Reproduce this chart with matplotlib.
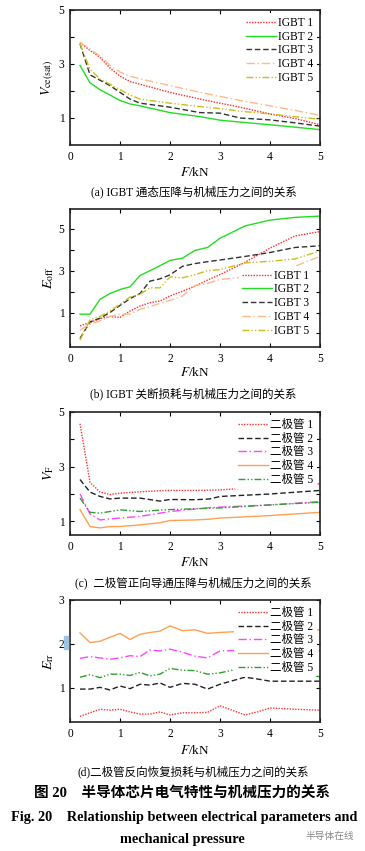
import matplotlib
matplotlib.use('Agg')
import matplotlib.pyplot as plt
from matplotlib.patches import Rectangle

plt.rcParams['font.family'] = ['Liberation Serif', 'Noto Sans CJK SC']
plt.rcParams['mathtext.fontset'] = 'stix'
plt.rcParams['axes.unicode_minus'] = False

# (a) IGBT Vce(sat)
xa = [0.2, 0.4, 0.6, 0.8, 1.0, 1.2, 1.4, 2.0, 2.6, 3.0, 3.4, 4.0, 4.5, 5.0]
a_igbt1 = [3.80, 3.50, 3.25, 2.85, 2.55, 2.35, 2.25, 1.95, 1.70, 1.55, 1.40, 1.15, 0.98, 0.75]
a_igbt2 = [2.95, 2.30, 2.05, 1.85, 1.65, 1.52, 1.45, 1.20, 1.05, 0.92, 0.85, 0.75, 0.66, 0.57]
a_igbt3 = [3.75, 2.60, 2.40, 2.20, 1.95, 1.70, 1.55, 1.40, 1.20, 1.18, 1.00, 0.93, 0.82, 0.70]
a_igbt4 = [3.80, 3.55, 3.30, 2.95, 2.70, 2.55, 2.45, 2.20, 1.95, 1.80, 1.65, 1.45, 1.28, 1.10]
a_igbt5 = [3.75, 2.80, 2.45, 2.25, 2.05, 1.85, 1.70, 1.55, 1.42, 1.35, 1.25, 1.15, 1.05, 0.95]

# (b) IGBT Eoff
xb = [0.2, 0.4, 0.6, 0.8, 1.0, 1.2, 1.4, 1.6, 1.8, 2.0, 2.25, 2.5, 2.75, 3.0, 3.5, 4.0, 4.5, 5.0]
b_igbt1 = [0.36, 0.52, 0.71, 0.81, 0.76, 1.07, 1.31, 1.47, 1.55, 1.79, 2.02, 2.26, 2.55, 2.81, 3.40, 4.08, 4.66, 4.87]
b_igbt2 = [0.92, 0.92, 1.63, 1.91, 2.10, 2.23, 2.77, 3.00, 3.24, 3.49, 3.60, 3.97, 4.11, 4.55, 5.14, 5.42, 5.55, 5.61]
b_igbt3 = [-0.24, 0.55, 0.73, 1.00, 1.34, 1.66, 1.91, 2.50, 2.61, 2.80, 3.21, 3.34, 3.43, 3.51, 3.68, 3.87, 4.11, 4.19]
b_igbt4 = [0.16, 0.44, 0.60, 0.81, 0.92, 0.92, 1.15, 1.28, 1.44, 1.58, 1.79, 2.29, 2.39, 2.58, 2.70, 3.13, 3.21, 3.68]
b_igbt5 = [-0.32, 0.65, 0.81, 1.08, 1.39, 1.74, 1.87, 2.18, 2.18, 2.70, 2.66, 2.81, 3.00, 3.05, 3.37, 3.45, 3.56, 3.95]

# (c) diode VF
xc = [0.2, 0.4, 0.6, 0.8, 1.0, 1.4, 1.8, 2.0, 2.5, 2.8, 3.0, 4.0, 5.0]
c_d1 = [4.57, 2.43, 2.07, 1.98, 2.03, 2.08, 2.12, 2.13, 2.13, 2.14, 2.15, 2.28, 2.37]
c_d2 = [2.53, 2.07, 1.91, 1.82, 1.85, 1.85, 1.74, 1.80, 1.79, 1.82, 1.91, 2.00, 2.13]
c_d3 = [2.00, 1.27, 1.05, 1.09, 1.12, 1.18, 1.30, 1.36, 1.45, 1.50, 1.52, 1.60, 1.72]
c_d4 = [1.43, 0.81, 0.76, 0.81, 0.81, 0.87, 0.95, 1.03, 1.05, 1.08, 1.12, 1.21, 1.33]
c_d5 = [1.85, 1.33, 1.30, 1.36, 1.42, 1.36, 1.41, 1.43, 1.46, 1.48, 1.49, 1.60, 1.70]

# (d) diode Err
xd = [0.2, 0.4, 0.6, 0.8, 1.0, 1.2, 1.4, 1.6, 1.8, 2.0, 2.25, 2.5, 2.75, 3.0, 3.5, 3.75, 4.0, 4.5, 4.75, 5.0]
d_d1 = [0.35, 0.43, 0.51, 0.49, 0.51, 0.45, 0.40, 0.40, 0.45, 0.38, 0.43, 0.43, 0.44, 0.59, 0.38, 0.45, 0.54, 0.51, 0.50, 0.49]
d_d2 = [0.97, 0.97, 1.01, 0.95, 1.04, 0.98, 1.08, 1.06, 1.11, 1.01, 1.10, 1.08, 0.97, 1.08, 1.24, 1.20, 1.15, 1.15, 1.15, 1.15]
d_d3 = [1.67, 1.71, 1.68, 1.65, 1.68, 1.73, 1.71, 1.86, 1.84, 1.88, 1.81, 1.72, 1.68, 1.84, 1.86, 1.86, 1.86, 1.85, 1.85, 1.84]
d_d4 = [2.25, 2.03, 2.06, 2.15, 2.24, 2.10, 2.22, 2.26, 2.29, 2.41, 2.30, 2.32, 2.24, 2.26, 2.29, 2.28, 2.30, 2.30, 2.31, 2.32]
d_d5 = [1.24, 1.30, 1.23, 1.31, 1.31, 1.28, 1.35, 1.27, 1.31, 1.44, 1.40, 1.39, 1.31, 1.34, 1.46, 1.42, 1.40, 1.35, 1.30, 1.25]

igbt_names = ['IGBT 1', 'IGBT 2', 'IGBT 3', 'IGBT 4', 'IGBT 5']
diode_names = ['二极管 1', '二极管 2', '二极管 3', '二极管 4', '二极管 5']

igbt_styles = [
    dict(color='#ff2a2a', ls=(0, (1, 1))),
    dict(color='#22dd22', ls='-'),
    dict(color='#333333', ls=(0, (4, 2))),
    dict(color='#ffb98a', ls=(0, (6, 2, 1, 2))),
    dict(color='#c8c020', ls=(0, (5, 1.5, 1, 1.5, 1, 1.5))),
]
diode_styles = [
    dict(color='#ff3030', ls=(0, (1, 1))),
    dict(color='#222222', ls=(0, (4, 2))),
    dict(color='#ff44ff', ls=(0, (6, 2, 1, 2))),
    dict(color='#ffa050', ls='-'),
    dict(color='#30a030', ls=(0, (5, 1.5, 1, 1.5, 1, 1.5))),
]

fig = plt.figure(figsize=(3.65, 8.51), dpi=100)

L, W = 70 / 365, 250 / 365
H = 851.0


def make_ax(top, bottom):
    return fig.add_axes([L, 1 - bottom / H, W, (bottom - top) / H])


def style_ax(ax, ylim, yticks, ylabels):
    ax.set_xlim(0, 5)
    ax.set_ylim(*ylim)
    ax.set_xticks(range(6))
    ax.set_yticks(yticks)
    ax.set_yticklabels(ylabels)
    ax.tick_params(direction='in', top=True, right=True, labelsize=8.3,
                   length=3, width=0.8, pad=4)
    for s in ax.spines.values():
        s.set_linewidth(1.2)
        s.set_color('#222222')


def draw(ax, x, series, names, styles):
    for y, n, st in zip(series, names, styles):
        ax.plot(x, y, lw=1.0, label=n, **st)


def legend(ax, loc, pad=0.3):
    lg = ax.legend(loc=loc, fontsize=8.3, frameon=True, handlelength=2.6,
                   handletextpad=0.2, labelspacing=0.15, borderpad=0.3,
                   borderaxespad=pad)
    lg.get_frame().set_edgecolor('none')
    lg.get_frame().set_facecolor('white')
    lg.get_frame().set_alpha(1)
    lg.set_zorder(5)


# (a)
ax1 = make_ax(10, 145)
draw(ax1, xa, [a_igbt1, a_igbt2, a_igbt3, a_igbt4, a_igbt5], igbt_names, igbt_styles)
style_ax(ax1, (0, 5), [1, 2, 3, 4, 5], ['1', '', '3', '', '5'])
legend(ax1, 'upper right')
ax1.set_ylabel(r'$V_{\mathrm{ce(sat)}}$', fontsize=10, labelpad=2)

# (b)
ax2 = make_ax(209, 347)
draw(ax2, xb, [b_igbt1, b_igbt2, b_igbt3, b_igbt4, b_igbt5], igbt_names, igbt_styles)
style_ax(ax2, (-0.65, 5.95), [0, 1, 2, 3, 4, 5], ['', '1', '', '3', '', '5'])
legend(ax2, 'lower right', pad=0.6)
ax2.set_ylabel(r'$E_{\mathrm{off}}$', fontsize=10, labelpad=2)

# (c)
ax3 = make_ax(412, 535)
draw(ax3, xc, [c_d1, c_d2, c_d3, c_d4, c_d5], diode_names, diode_styles)
style_ax(ax3, (0.5, 5), [1, 2, 3, 4, 5], ['1', '', '3', '', '5'])
legend(ax3, 'upper right')
ax3.set_ylabel(r'$V_{\mathrm{F}}$', fontsize=10, labelpad=2)

# (d)
ax4 = make_ax(600, 722)
draw(ax4, xd, [d_d1, d_d2, d_d3, d_d4, d_d5], diode_names, diode_styles)
style_ax(ax4, (0.22, 3), [1, 2, 3], ['1', '2', '3'])
legend(ax4, 'upper right')
ax4.set_ylabel(r'$E_{\mathrm{rr}}$', fontsize=10, labelpad=2)

# small blue mark next to the "2" label of (d)
fig.patches.append(Rectangle((64 / 365, 1 - 649 / H), 4 / 365, 13 / H,
                             transform=fig.transFigure, color='#9ec3e3',
                             zorder=10))

# x labels and captions
xc_fig = 195 / 365
for ylab, ycap, cap in [
    (172, 192, '(a) IGBT 通态压降与机械压力之间的关系'),
    (373, 394, '(b) IGBT 关断损耗与机械压力之间的关系'),
    (562, 583, '(c)  二极管正向导通压降与机械压力之间的关系'),
    (751, 772, '(d)二极管反向恢复损耗与机械压力之间的关系'),
]:
    fig.text(xc_fig, 1 - ylab / H, r'$F$/kN', ha='center', va='center', fontsize=9.5)
    fig.text(0.53, 1 - ycap / H, cap, ha='center', va='center', fontsize=8.3)

fig.text(0.5, 1 - 793 / H, '图 20　半导体芯片电气特性与机械压力的关系',
         ha='center', va='center', fontsize=10.5, fontweight='bold')
fig.text(0.505, 1 - 818 / H, 'Fig. 20    Relationship between electrical parameters and',
         ha='center', va='center', fontsize=10.3, fontweight='bold')
fig.text(0.5, 1 - 840 / H, 'mechanical pressure',
         ha='center', va='center', fontsize=10.3, fontweight='bold')

# watermark
fig.text(0.97, 1 - 836 / H, '半导体在线', ha='right', va='center',
         fontsize=7, color='#8a8a8a')

fig.savefig('out.png', dpi=100)
